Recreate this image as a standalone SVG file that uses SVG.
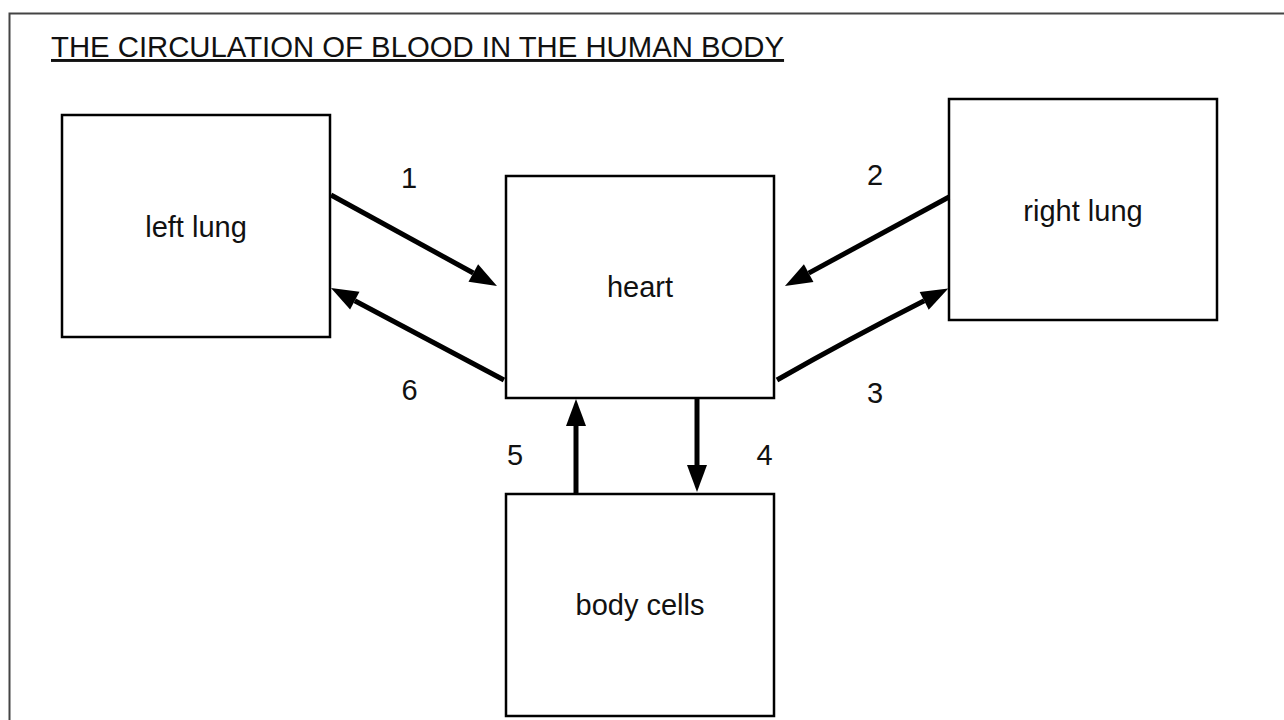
<svg xmlns="http://www.w3.org/2000/svg" width="1284" height="720" viewBox="0 0 1284 720">
  <style>
    .box { fill: #ffffff; stroke: #000000; stroke-width: 2.5; }
    .lbl { font-family: "Liberation Sans", Arial, sans-serif; font-size: 29px; fill: #111111; text-anchor: middle; }
    .num { font-family: "Liberation Sans", Arial, sans-serif; font-size: 29px; fill: #111111; text-anchor: middle; }
    .title { font-family: "Liberation Sans", Arial, sans-serif; font-size: 29.3px; fill: #111111; text-decoration: underline; }
    .conn { fill: none; stroke: #000000; stroke-width: 5; stroke-linecap: butt; marker-end: url(#arrow); }
  </style>
  <defs>
    <marker id="arrow" markerUnits="userSpaceOnUse" markerWidth="28" markerHeight="21" refX="0" refY="10" orient="auto" overflow="visible">
      <path d="M0,0 L27,10 L0,20 Z" fill="#000000"/>
    </marker>
  </defs>
  <rect x="0" y="0" width="1284" height="720" fill="#ffffff"/>
  <path d="M9.5,730 L9.5,13.5 L1290,13.5" fill="none" stroke="#444444" stroke-width="2"/>
  <text class="title" x="51" y="57">THE CIRCULATION OF BLOOD IN THE HUMAN BODY</text>

  <g id="left-lung">
    <rect class="box" x="62" y="115" width="268" height="222"/>
    <text class="lbl" x="196" y="237">left lung</text>
  </g>
  <g id="heart">
    <rect class="box" x="506" y="176" width="268" height="222"/>
    <text class="lbl" x="640" y="297">heart</text>
  </g>
  <g id="right-lung">
    <rect class="box" x="949" y="99" width="268" height="221"/>
    <text class="lbl" x="1083" y="221">right lung</text>
  </g>
  <g id="body-cells">
    <rect class="box" x="506" y="494" width="268" height="222"/>
    <text class="lbl" x="640" y="615">body cells</text>
  </g>

  <g id="connectors">
    <line class="conn" x1="331" y1="195" x2="473.3" y2="273"/>
    <line class="conn" x1="949" y1="197" x2="808.7" y2="273.1"/>
    <path class="conn" d="M777,380 Q849.7,338.6 924.2,300.8"/>
    <line class="conn" x1="697" y1="398" x2="697" y2="465"/>
    <line class="conn" x1="576" y1="494" x2="576" y2="426"/>
    <line class="conn" x1="504" y1="380" x2="354.8" y2="300.7"/>
    <text class="num" x="409" y="188">1</text>
    <text class="num" x="875" y="185">2</text>
    <text class="num" x="875" y="403">3</text>
    <text class="num" x="764.5" y="465">4</text>
    <text class="num" x="515" y="465">5</text>
    <text class="num" x="409.5" y="400">6</text>
  </g>
</svg>
